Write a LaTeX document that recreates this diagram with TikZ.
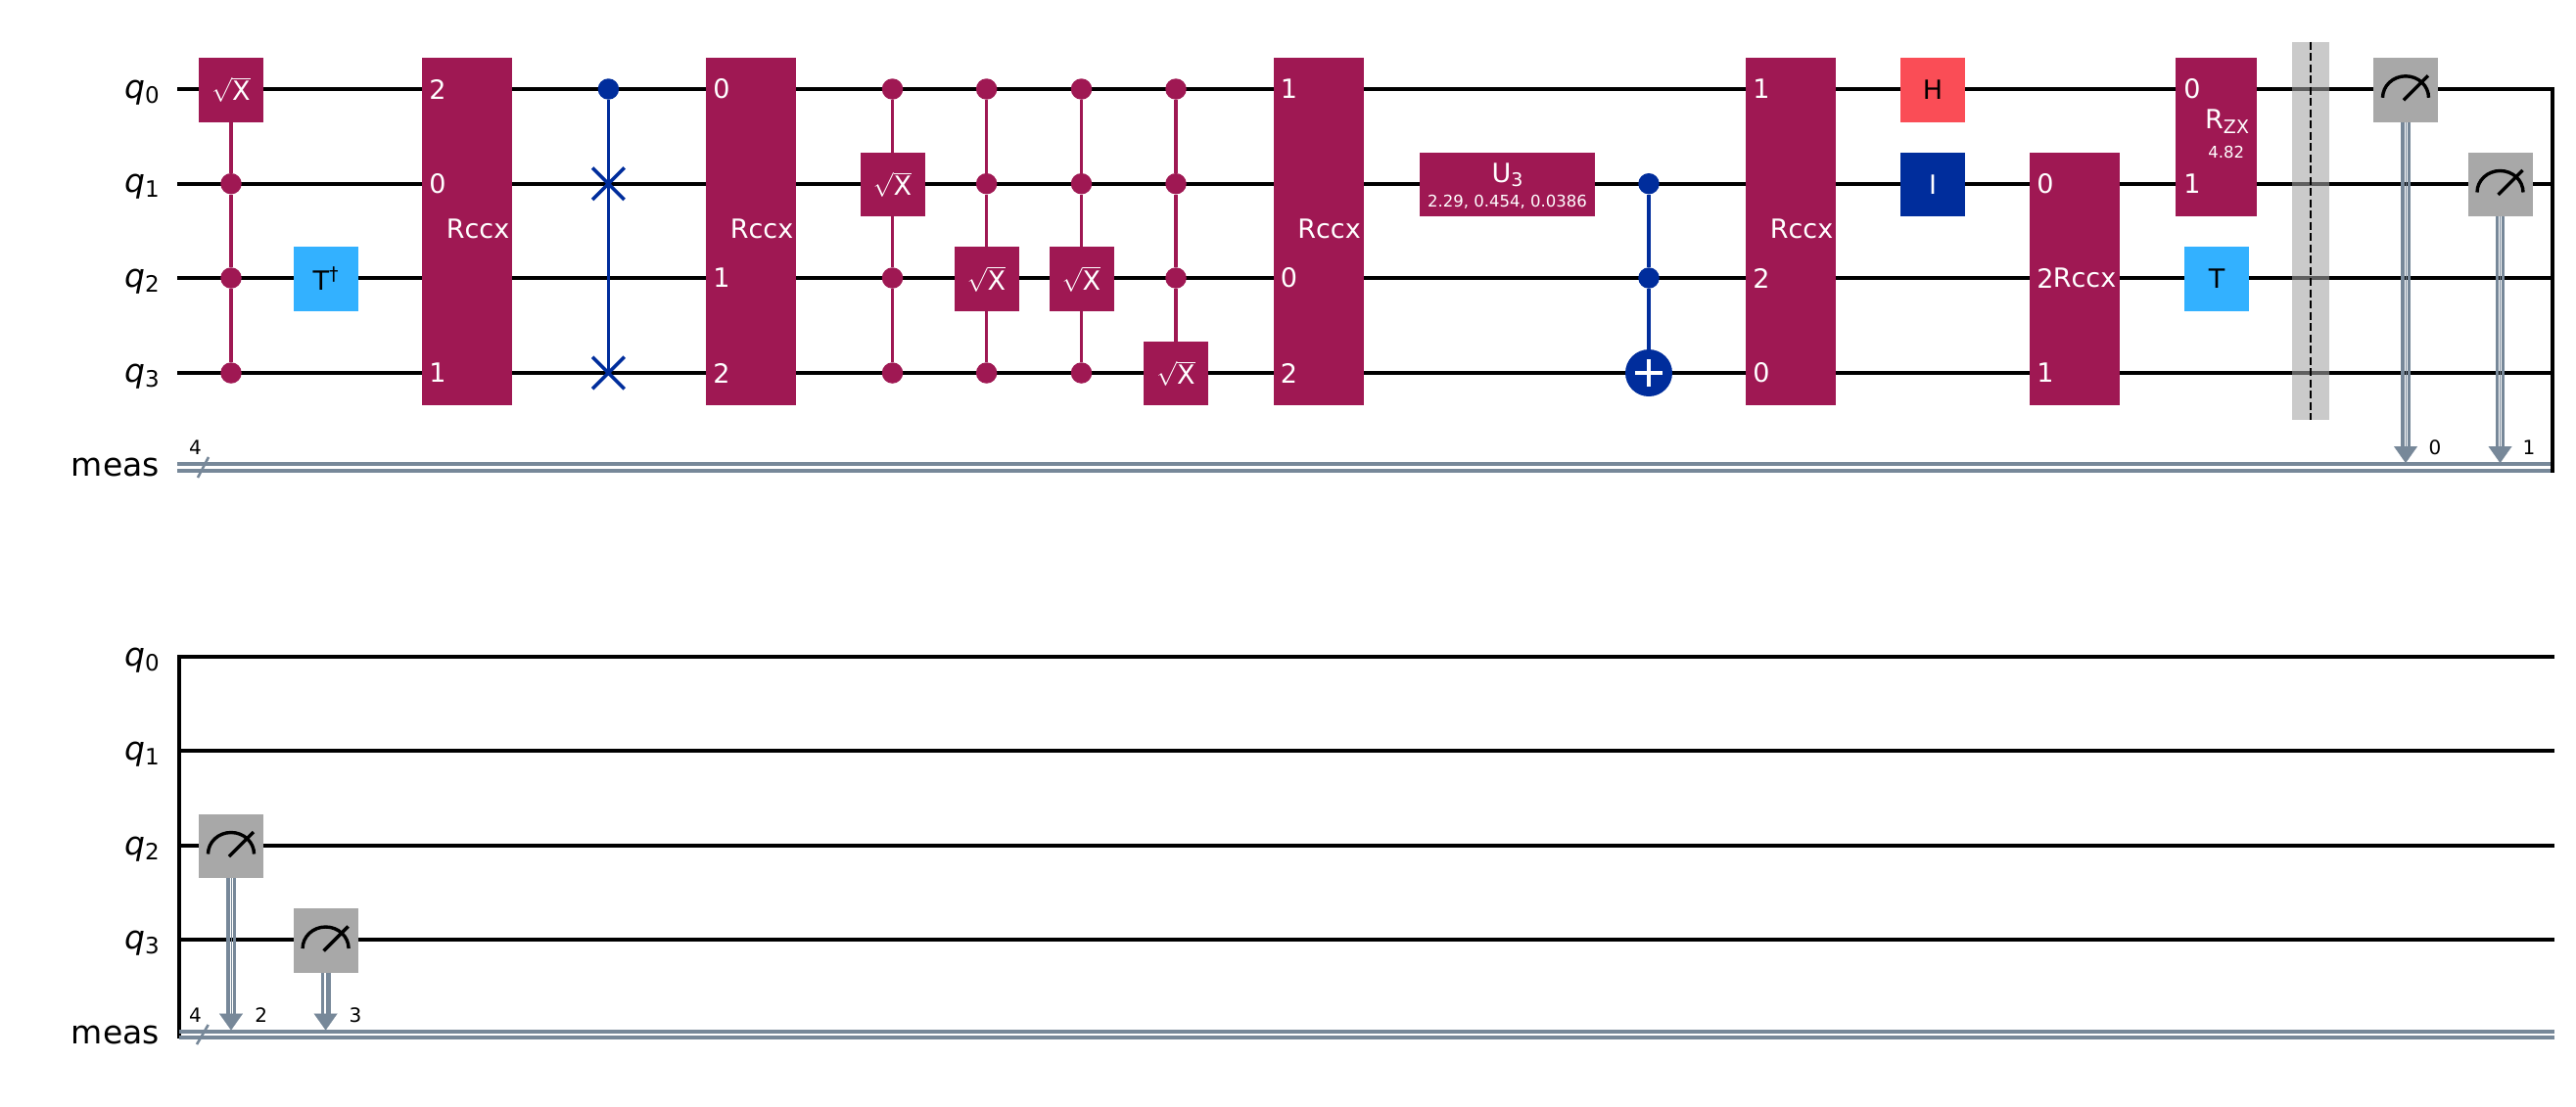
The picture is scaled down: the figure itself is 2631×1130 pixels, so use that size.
\documentclass[tikz,border=0pt]{standalone}
\usepackage{fontspec}
\setmainfont{DejaVu Sans}
\usetikzlibrary{positioning, arrows.meta, shapes.misc}

\definecolor{gatepurple}{HTML}{9F1853}
\definecolor{gateblue}{HTML}{002D9C}
\definecolor{gatesky}{HTML}{33B1FF}
\definecolor{gatered}{HTML}{FA4D56}
\definecolor{metergrey}{HTML}{A8A8A8}
\definecolor{clbit}{HTML}{778899}
\definecolor{barrierfill}{HTML}{A4A4A4}

\newcommand{\qname}[1]{\textit{q}\raisebox{-5pt}{\fontsize{23}{23}\selectfont #1}}
\newcommand{\lowtext}[1]{\raisebox{-4.5pt}{\fontsize{19}{19}\selectfont #1}}
\newcommand{\sqx}{$\sqrt{\hbox{X}}$}
\newcommand{\meterdial}[1]{
    \draw[dial] ([shift={(-23.5,8)}]#1.center) arc[start angle=180, end angle=360, x radius=23.5, y radius=22];
    \draw[dial] ([shift={(-2,10.5)}]#1.center) -- ([shift={(23,-14.5)}]#1.center);
}

\tikzset{
    wire/.style={black, line width=3.9},
    cwire/.style={clbit, line width=3.6},
    cslash/.style={clbit, line width=2.6},
    gate/.style={rectangle, inner sep=0, outer sep=0, minimum width=66, minimum height=65.7, font=\fontsize{27}{27}\selectfont},
    pgate/.style={gate, fill=gatepurple, text=white},
    tall/.style={pgate, minimum width=92, minimum height=355},
    skygate/.style={gate, fill=gatesky, text=black},
    meter/.style={gate, fill=metergrey},
    dial/.style={black, line width=3.4},
    reglabel/.style={anchor=base east, inner sep=0, font=\fontsize{33}{33}\selectfont},
    gatetext/.style={inner sep=0, text=white, font=\fontsize{27}{27}\selectfont},
    param/.style={inner sep=0, text=white, font=\fontsize{16.5}{16.5}\selectfont},
    small/.style={inner sep=0, font=\fontsize{20}{20}\selectfont},
    pdot/.style={circle, fill=gatepurple, inner sep=0, minimum size=21.5},
    bdot/.style={circle, fill=gateblue, inner sep=0, minimum size=21.5},
    pline/.style={gatepurple, line width=3.6},
    bline/.style={gateblue, line width=3.6},
    swapx/.style={cross out, draw=gateblue, line width=3.6, inner sep=0, minimum width=29, minimum height=29},
    target/.style={circle, fill=gateblue, inner sep=0, minimum size=48},
    barrier/.style={rectangle, inner sep=0, fill=barrierfill, fill opacity=.584, minimum width=38, minimum height=386},
    barrierline/.style={black, line width=2, dash pattern=on 8 off 3.5},
    cbar/.style={clbit, line width=3.4},
    ctip/.style={clbit, line width=.1, -{Triangle[width=24pt, length=17pt]}}
}

\begin{document}
\begin{tikzpicture}[x=1pt, y=-1pt]
        \useasboundingbox (0,0) rectangle (2631,1130);

        \coordinate (q0) at (181,91);
        \coordinate (q1) at (181,187.7);
        \coordinate (q2) at (181,284);
        \coordinate (q3) at (181,381);
        \coordinate (qc) at (181,477.4);
        \coordinate (q0end) at (2609,91);
        \coordinate (q1end) at (2609,187.7);
        \coordinate (q2end) at (2609,284);
        \coordinate (q3end) at (2609,381);
        \coordinate (qcend) at (2609,477.4);
        \coordinate (edgetop) at (2607,89);
        \coordinate (edgebot) at (2607,482.5);

        \coordinate (r0) at (183,671);
        \coordinate (r1) at (183,767);
        \coordinate (r2) at (183,864);
        \coordinate (r3) at (183,960);
        \coordinate (rc) at (183,1057);
        \coordinate (r0end) at (2609,671);
        \coordinate (r1end) at (2609,767);
        \coordinate (r2end) at (2609,864);
        \coordinate (r3end) at (2609,960);
        \coordinate (rcend) at (2609,1057);
        \coordinate (rtop) at (183,669);
        \coordinate (rbot) at (183,1061);

        \draw[wire] (q0) -- (q0end);
        \draw[wire] (q1) -- (q1end);
        \draw[wire] (q2) -- (q2end);
        \draw[wire] (q3) -- (q3end);
        \draw[cwire] ([yshift=3.3]qc) -- ([yshift=3.3]qcend);
        \draw[cwire] ([yshift=-3.3]qc) -- ([yshift=-3.3]qcend);
        \draw[wire] (edgetop) -- (edgebot);
        \draw[wire] (r0) -- (r0end);
        \draw[wire] (r1) -- (r1end);
        \draw[wire] (r2) -- (r2end);
        \draw[wire] (r3) -- (r3end);
        \draw[wire] (rtop) -- (rbot);
        \draw[cwire] ([yshift=3.1]rc) -- ([yshift=3.1]rcend);
        \draw[cwire] ([yshift=-3.1]rc) -- ([yshift=-3.1]rcend);

        \node[reglabel] (lq0) at (163,100) {\qname{0}};
        \node[reglabel] (lq1) at (163,196.7) {\qname{1}};
        \node[reglabel] (lq2) at (163,293) {\qname{2}};
        \node[reglabel] (lq3) at (163,390) {\qname{3}};
        \node[reglabel] (lqc) at (163,486.7) {meas};
        \node[reglabel] (lr0) at (163,680) {\qname{0}};
        \node[reglabel] (lr1) at (163,776) {\qname{1}};
        \node[reglabel] (lr2) at (163,873) {\qname{2}};
        \node[reglabel] (lr3) at (163,969) {\qname{3}};
        \node[reglabel] (lrc) at (163,1066) {meas};

        \node[small] (size0) at (199.5,457) {4};
        \node[small] (size1) at (199.5,1037) {4};
        \coordinate (slash0a) at (202,488);
        \coordinate (slash0b) at (213,467);
        \coordinate (slash1a) at (201,1067);
        \coordinate (slash1b) at (212.7,1047);
        \draw[cslash] (slash0a) -- (slash0b);
        \draw[cslash] (slash1a) -- (slash1b);

        \node[pgate] (sxA) at (236,91.8) {\sqx};
        \node[pdot] (ctlA1) at (236,187.7) {};
        \node[pdot] (ctlA2) at (236,284) {};
        \node[pdot] (ctlA3) at (236,381) {};
        \node[skygate] (tdg) at (332.6,285) {T\raisebox{10pt}{\fontsize{19}{19}\selectfont †}};

        \node[tall] (rccxA) at (477,236) {};
        \node[gatetext] (rccxAt) at (488,234) {Rccx};
        \node[gatetext] (rA2) at ([xshift=16]rccxA.west |- q0) {2};
        \node[gatetext] (rA0) at ([xshift=16]rccxA.west |- q1) {0};
        \node[gatetext] (rA1) at ([xshift=16]rccxA.west |- q3) {1};

        \node[bdot] (swc) at (621.4,91) {};
        \node[swapx] (swA) at (621.4,187.7) {};
        \node[swapx] (swB) at (621.4,381) {};

        \node[tall] (rccxB) at (767,236) {};
        \node[gatetext] (rccxBt) at (778,234) {Rccx};
        \node[gatetext] (rB0) at ([xshift=16]rccxB.west |- q0) {0};
        \node[gatetext] (rB1) at ([xshift=16]rccxB.west |- q2) {1};
        \node[gatetext] (rB2) at ([xshift=16]rccxB.west |- q3) {2};

        \node[pdot] (ctlB1) at (911.5,91) {};
        \node[pgate] (sxB) at (911.5,188.5) {\sqx};
        \node[pdot] (ctlB2) at (911.5,284) {};
        \node[pdot] (ctlB3) at (911.5,381) {};

        \node[pdot] (ctlC1) at (1007.6,91) {};
        \node[pdot] (ctlC2) at (1007.6,187.7) {};
        \node[pgate] (sxC) at (1007.6,285) {\sqx};
        \node[pdot] (ctlC3) at (1007.6,381) {};

        \node[pdot] (ctlD1) at (1104.5,91) {};
        \node[pdot] (ctlD2) at (1104.5,187.7) {};
        \node[pgate] (sxD) at (1104.5,285) {\sqx};
        \node[pdot] (ctlD3) at (1104.5,381) {};

        \node[pdot] (ctlE1) at (1201,91) {};
        \node[pdot] (ctlE2) at (1201,187.7) {};
        \node[pdot] (ctlE3) at (1201,284) {};
        \node[pgate] (sxE) at (1201,381.5) {\sqx};

        \node[tall] (rccxC) at (1346.5,236) {};
        \node[gatetext] (rccxCt) at (1357.5,234) {Rccx};
        \node[gatetext] (rC1) at ([xshift=16]rccxC.west |- q0) {1};
        \node[gatetext] (rC0) at ([xshift=16]rccxC.west |- q2) {0};
        \node[gatetext] (rC2) at ([xshift=16]rccxC.west |- q3) {2};

        \node[pgate, minimum width=179] (uthree) at (1539.5,188.5) {};
        \node[gatetext] (uthreet) at (1539.5,179) {U\lowtext{3}};
        \node[param] (uthreep) at (1539.5,206.5) {2.29, 0.454, 0.0386};

        \node[bdot] (ccxA) at (1684,187.7) {};
        \node[bdot] (ccxB) at (1684,284) {};
        \node[target, path picture={
            \draw[white, line width=4] ([xshift=-14]path picture bounding box.center) -- ([xshift=14]path picture bounding box.center);
            \draw[white, line width=4] ([yshift=-14]path picture bounding box.center) -- ([yshift=14]path picture bounding box.center);
        }] (ccxT) at (1684,381) {};

        \node[tall] (rccxD) at (1829,236) {};
        \node[gatetext] (rccxDt) at (1840,234) {Rccx};
        \node[gatetext] (rD1) at ([xshift=16]rccxD.west |- q0) {1};
        \node[gatetext] (rD2) at ([xshift=16]rccxD.west |- q2) {2};
        \node[gatetext] (rD0) at ([xshift=16]rccxD.west |- q3) {0};

        \node[gate, fill=gatered] (hgate) at (1974,91.8) {H};
        \node[gate, fill=gateblue, text=white] (igate) at (1974,188.5) {I};

        \node[tall, minimum height=258] (rccxE) at (2119,284.8) {};
        \node[gatetext] (rccxEt) at (2129,284) {Rccx};
        \node[gatetext] (rE0) at ([xshift=16]rccxE.west |- q1) {0};
        \node[gatetext] (rE2) at ([xshift=16]rccxE.west |- q2) {2};
        \node[gatetext] (rE1) at ([xshift=16]rccxE.west |- q3) {1};

        \node[pgate, minimum width=83, minimum height=162] (rzx) at (2263.5,140) {};
        \node[gatetext] (rzxt) at (2274.6,124) {R\lowtext{ZX}};
        \node[param] (rzxp) at (2273.7,155.7) {4.82};
        \node[gatetext] (rz0) at ([xshift=17]rzx.west |- q0) {0};
        \node[gatetext] (rz1) at ([xshift=17]rzx.west |- q1) {1};
        \node[skygate] (tgate) at (2264,285) {T};

        \node[barrier] (wall) at (2360,235.7) {};
        \draw[barrierline] (wall.north) -- (wall.south);

        \node[meter] (m0) at (2457,91.8) {};
        \node[meter] (m1) at (2553.5,188.5) {};
        \node[meter] (m2) at (236,864.5) {};
        \node[meter] (m3) at (332.6,961) {};
        \meterdial{m0}
        \meterdial{m1}
        \meterdial{m2}
        \meterdial{m3}

        \coordinate (c0) at (2457,473);
        \coordinate (c1) at (2553.5,473);
        \coordinate (c2) at (236,1052.5);
        \coordinate (c3) at (332.6,1052.5);
        \draw[cbar] ([xshift=-3.2]m0.south) -- ([xshift=-3.2]m0.south |- 0,460);
        \draw[cbar] ([xshift=3.2]m0.south) -- ([xshift=3.2]m0.south |- 0,460);
        \draw[cbar] ([xshift=-3.2]m1.south) -- ([xshift=-3.2]m1.south |- 0,460);
        \draw[cbar] ([xshift=3.2]m1.south) -- ([xshift=3.2]m1.south |- 0,460);
        \draw[cbar] ([xshift=-3.2]m2.south) -- ([xshift=-3.2]m2.south |- 0,1039);
        \draw[cbar] ([xshift=3.2]m2.south) -- ([xshift=3.2]m2.south |- 0,1039);
        \draw[cbar] ([xshift=-3.2]m3.south) -- ([xshift=-3.2]m3.south |- 0,1039);
        \draw[cbar] ([xshift=3.2]m3.south) -- ([xshift=3.2]m3.south |- 0,1039);
        \draw[ctip] (m0) -- (c0);
        \draw[ctip] (m1) -- (c1);
        \draw[ctip] (m2) -- (c2);
        \draw[ctip] (m3) -- (c3);
        \node[small] (bit0) at (2487,457) {0};
        \node[small] (bit1) at (2583,457) {1};
        \node[small] (bit2) at (266.7,1037) {2};
        \node[small] (bit3) at (363,1037) {3};

        \path[pline]
            (sxA) edge (ctlA1)
            (ctlA1) edge (ctlA2)
            (ctlA2) edge (ctlA3)
            (ctlB1) edge (sxB)
            (sxB) edge (ctlB2)
            (ctlB2) edge (ctlB3)
            (ctlC1) edge (ctlC2)
            (ctlC2) edge (sxC)
            (sxC) edge (ctlC3)
            (ctlD1) edge (ctlD2)
            (ctlD2) edge (sxD)
            (sxD) edge (ctlD3)
            (ctlE1) edge (ctlE2)
            (ctlE2) edge (ctlE3)
            (ctlE3) edge (sxE);
        \path[bline]
            (swc) edge (swA.center)
            (swA.center) edge (swB.center)
            (ccxA) edge (ccxB)
            (ccxB) edge (ccxT);
\end{tikzpicture}
\end{document}
